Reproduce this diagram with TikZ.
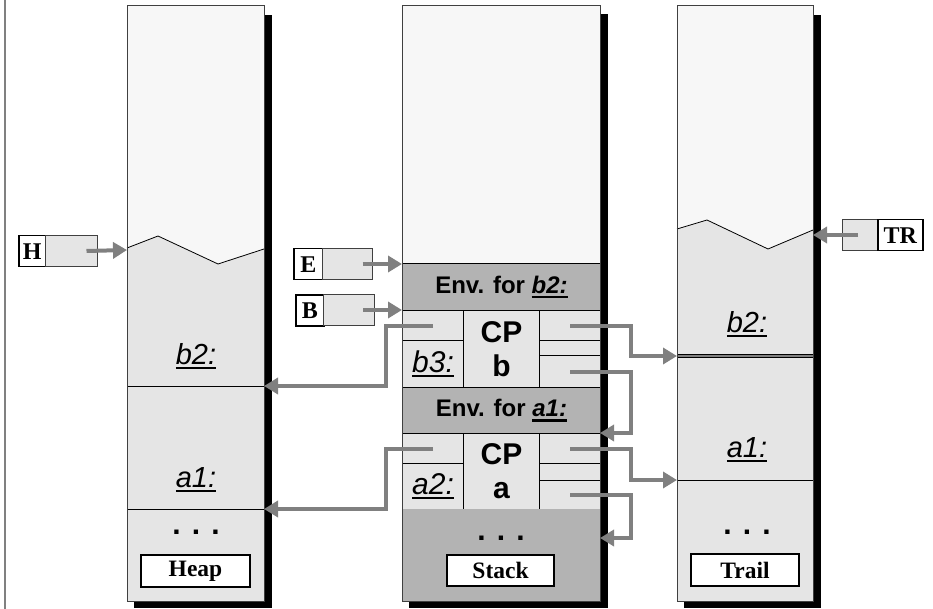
\documentclass[tikz,border=0pt]{standalone}
\usepackage{fontspec}
\setmainfont{Liberation Serif}
\setsansfont{Liberation Sans}
\usetikzlibrary{arrows.meta}

\definecolor{areatop}{HTML}{F7F7F7}
\definecolor{arealow}{HTML}{E5E5E5}
\definecolor{envgray}{HTML}{B3B3B3}
\definecolor{ptrgray}{HTML}{808080}
\definecolor{framegray}{HTML}{404040}

% underlined label
\newcommand{\undl}[1]{\setbox0=\hbox{#1}\rlap{\rule[-5pt]{\wd0}{2.5pt}}\box0}

\tikzset{
  cell/.style={draw=black, line width=1pt, fill=arealow, inner sep=0pt, anchor=north west},
  envcell/.style={cell, fill=envgray, font=\fontsize{24}{26}\selectfont\sffamily\bfseries},
  cpcell/.style={cell, align=center, font=\fontsize{30}{34}\selectfont\sffamily\bfseries},
  lblcell/.style={cell, font=\fontsize{30}{32}\selectfont\sffamily},
  lbl/.style={anchor=base, inner sep=0pt, font=\fontsize{29}{32}\selectfont\sffamily},
  dots/.style={inner sep=0pt, font=\fontsize{30}{30}\selectfont\sffamily\bfseries},
  namebox/.style={draw=black, line width=1.5pt, fill=white, inner sep=0pt, anchor=north west,
    font=\fontsize{24}{26}\selectfont\bfseries},
  valbox/.style={draw=framegray, line width=1pt, fill=arealow, inner sep=0pt, anchor=north west},
  titlebox/.style={draw=black, line width=1.2pt, fill=white, inner sep=0pt,
    font=\fontsize{23.5}{26}\selectfont\bfseries},
  column/.style={draw=framegray, line width=1pt},
  ptr/.style={draw=ptrgray, line width=4pt, -{Triangle[length=14pt,width=16pt]}}
}

\begin{document}
\begin{tikzpicture}[x=1pt,y=-1pt]
  \useasboundingbox (0,0) rectangle (933,609);
  \draw[gray, line width=1.5pt] (5,0) -- (5,609);

  % Shadows
  \fill[black] (134,15) rectangle (272,608);
  \fill[black] (409,14) rectangle (608,608);
  \fill[black] (684,15) rectangle (821,608);

  % Heap
  \fill[areatop] (127,6) rectangle (264,601);
  \fill[arealow] (127,248) -- (158,236) -- (218,264) -- (264,249) -- (264,601) -- (127,601) -- cycle;
  \draw[line width=0.8pt] (127,248) -- (158,236) -- (218,264) -- (264,249);
  \draw[line width=1pt] (127,386) -- (264,386);
  \draw[line width=1pt] (127,509) -- (264,509);
  \draw[column] (127,6) rectangle (264,601);
  \coordinate (heaptop) at (127,250);
  \coordinate (heapb) at (264,386);
  \coordinate (heapa) at (264,509);
  \node[lbl] (hbtwo) at (196,364) {\undl{\textit{b2:}}};
  \node[lbl] (haone) at (196,487) {\undl{\textit{a1:}}};
  \node[dots] (hdots) at (196,532) {. . .};
  \node[titlebox, minimum width=109, minimum height=32] (heap) at (195.5,571) {Heap};

  % Stack
  \fill[areatop] (402,6) rectangle (600,263);
  \node[envcell, minimum width=198, minimum height=47] (envb) at (402,263) {Env. for \undl{\textit{b2:}}};
  \node[cell, minimum width=61, minimum height=30] (blt) at (402,310) {};
  \node[lblcell, minimum width=61, minimum height=47] (bthree) at (402,340) {\undl{\textit{b3:}}};
  \node[cpcell, minimum width=76, minimum height=77] (cpb) at (463,310) {CP\\b};
  \node[cell, minimum width=61, minimum height=30] (brt) at (539,310) {};
  \node[cell, minimum width=61, minimum height=15] (brm) at (539,340) {};
  \node[cell, minimum width=61, minimum height=32] (brb) at (539,355) {};
  \node[envcell, minimum width=198, minimum height=46] (enva) at (402,387) {Env. for \undl{\textit{a1:}}};
  \node[cell, minimum width=61, minimum height=30] (alt) at (402,433) {};
  \node[lblcell, minimum width=61, minimum height=46] (atwo) at (402,463) {\undl{\textit{a2:}}};
  \node[cpcell, minimum width=76, minimum height=76] (cpa) at (463,433) {CP\\a};
  \node[cell, minimum width=61, minimum height=30] (art) at (539,433) {};
  \node[cell, minimum width=61, minimum height=17] (arm) at (539,463) {};
  \node[cell, minimum width=61, minimum height=29] (arb) at (539,480) {};
  \fill[envgray] (402,509) rectangle (600,601);
  \draw[column] (402,6) rectangle (600,601);
  \coordinate (stackb) at (600,433);
  \coordinate (stacka) at (600,538);
  \node[dots] (sdots) at (501,538) {. . .};
  \node[titlebox, minimum width=107, minimum height=31] (stack) at (500.5,570.5) {Stack};

  % Trail
  \fill[areatop] (677,6) rectangle (813,601);
  \fill[arealow] (677,229) -- (707,220) -- (768,249) -- (813,230) -- (813,601) -- (677,601) -- cycle;
  \draw[line width=0.8pt] (677,229) -- (707,220) -- (768,249) -- (813,230);
  \draw[double=gray, double distance=1.5pt, line width=0.8pt] (677,356) -- (813,356);
  \draw[line width=1pt] (677,480) -- (813,480);
  \draw[column] (677,6) rectangle (813,601);
  \coordinate (trailtop) at (813,235);
  \coordinate (trailb) at (677,356);
  \coordinate (traila) at (677,480);
  \node[lbl] (tbtwo) at (747,332) {\undl{\textit{b2:}}};
  \node[lbl] (taone) at (747,457) {\undl{\textit{a1:}}};
  \node[dots] (tdots) at (747,532) {. . .};
  \node[titlebox, minimum width=108, minimum height=32] (trail) at (745,570) {Trail};

  % Registers
  \node[namebox, minimum width=27, minimum height=31] (hname) at (18,235) {H};
  \node[valbox, minimum width=52, minimum height=31] (hval) at (45,235) {};
  \node[namebox, minimum width=29, minimum height=31] (ename) at (293,248) {E};
  \node[valbox, minimum width=50, minimum height=31] (eval) at (322,248) {};
  \node[namebox, minimum width=28, minimum height=31] (bname) at (295,294) {B};
  \node[valbox, minimum width=51, minimum height=31] (bval) at (323,294) {};
  \node[valbox, minimum width=35, minimum height=31] (trval) at (842,219) {};
  \node[namebox, minimum width=45, minimum height=31] (trname) at (877,219) {TR};

  % Pointers
  \draw[ptr] ([xshift=15pt]hval.center) -- (heaptop);
  \draw[ptr] ([xshift=15pt]eval.center) -- (eval.center -| envb.west);
  \draw[ptr] ([xshift=14pt]bval.center) -- (bval.center -| envb.west);
  \draw[ptr] ([xshift=-2pt]trval.center) -- (trailtop);
  \draw[ptr] (blt.center) -- ++(-47,0) |- (heapb);
  \draw[ptr] (alt.center) -- ++(-47,0) |- (heapa);
  \draw[ptr] (brt.center) -- ++(61,0) |- (trailb);
  \draw[ptr] (art.center) -- ++(61,0) |- (traila);
  \draw[ptr] (brb.center) -- ++(61,0) |- (stackb);
  \draw[ptr] (arb.center) -- ++(61,0) |- (stacka);
\end{tikzpicture}
\end{document}
